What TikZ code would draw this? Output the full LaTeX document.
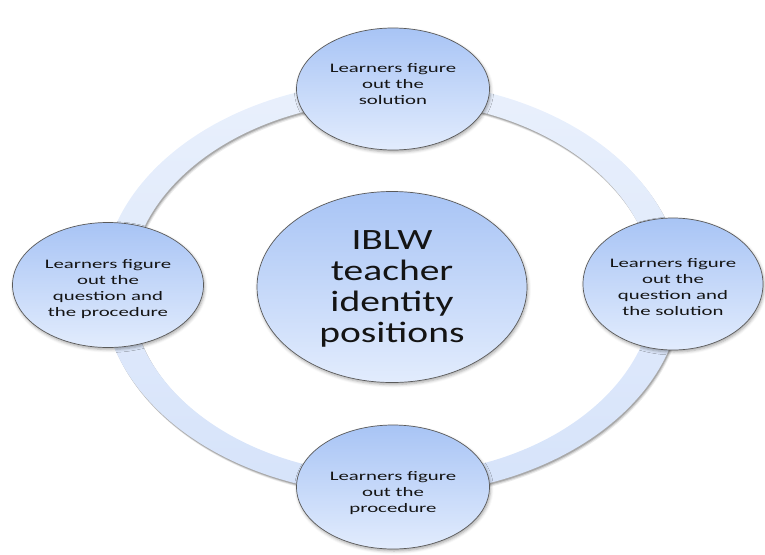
\documentclass[tikz,border=0pt]{standalone}
\usepackage{fontspec}
\setmainfont{Carlito}
\newfontfamily\smallf[FakeStretch=1.6]{Carlito}
\newfontfamily\bigf[FakeStretch=1.34]{Carlito}
\usetikzlibrary{shapes.geometric,shadows.blur}
\definecolor{ringtop}{HTML}{E9F0FC}
\definecolor{ringbot}{HTML}{D6E3FA}
\definecolor{ctop}{HTML}{A8C4F5}
\definecolor{cbot}{HTML}{E2ECFD}
\definecolor{edgec}{HTML}{5A5A5A}
\definecolor{txt}{HTML}{141414}
\tikzset{
  bubble/.style={ellipse, draw=edgec, line width=0.7pt, top color=ctop, bottom color=cbot,
    inner sep=0pt,
    blur shadow={shadow xshift=1pt, shadow yshift=-2pt, shadow blur radius=3pt, shadow opacity=35}},
  smalltxt/.style={inner sep=0pt, align=center, text=txt, font=\smallf\fontsize{13}{16}\selectfont},
  bigtxt/.style={inner sep=0pt, align=center, text=txt, font=\bigf\fontsize{29.5}{31}\selectfont},
}
\begin{document}
\begin{tikzpicture}[x=1pt,y=-1pt]
\useasboundingbox (0,0) rectangle (765,554);
% ring shadow
\foreach \o/\a in {3.5/0.08, 2.5/0.12, 1.5/0.18}{
  \fill[black, opacity=\a, even odd rule]
    ([shift={(0.6*\o,\o)}]392,288) ellipse [x radius=290pt, y radius=207pt]
    ([shift={(0.6*\o,\o)}]392,288) ellipse [x radius=262pt, y radius=187pt];
}
% ring
\path[top color=ringtop, bottom color=ringbot, even odd rule]
  (392,288) ellipse [x radius=290pt, y radius=207pt]
  (392,288) ellipse [x radius=262pt, y radius=187pt];
% bubbles
\node[bubble, minimum width=193pt, minimum height=122pt] (top) at (393,89) {};
\node[bubble, minimum width=191pt, minimum height=125pt] (left) at (108,285) {};
\node[bubble, minimum width=180pt, minimum height=132pt] (right) at (673,284) {};
\node[bubble, minimum width=193pt, minimum height=124pt] (bottom) at (393,487) {};
\node[bubble, minimum width=270pt, minimum height=191pt] (ctr) at (392,287) {};
% texts
\node[smalltxt] (toptext) at ([yshift=5pt]top.center) {Learners figure\\out the\\solution};
\node[smalltxt] (lefttext) at ([yshift=-4pt]left.center) {Learners figure\\out the\\question and\\the procedure};
\node[smalltxt] (righttext) at ([yshift=-3pt]right.center) {Learners figure\\out the\\question and\\the solution};
\node[smalltxt] (bottomtext) at ([yshift=-6pt]bottom.center) {Learners figure\\out the\\procedure};
\node[bigtxt] (ctrtext) at ([yshift=-2pt]ctr.center) {IBLW\\teacher\\identity\\positions};
\end{tikzpicture}
\end{document}
